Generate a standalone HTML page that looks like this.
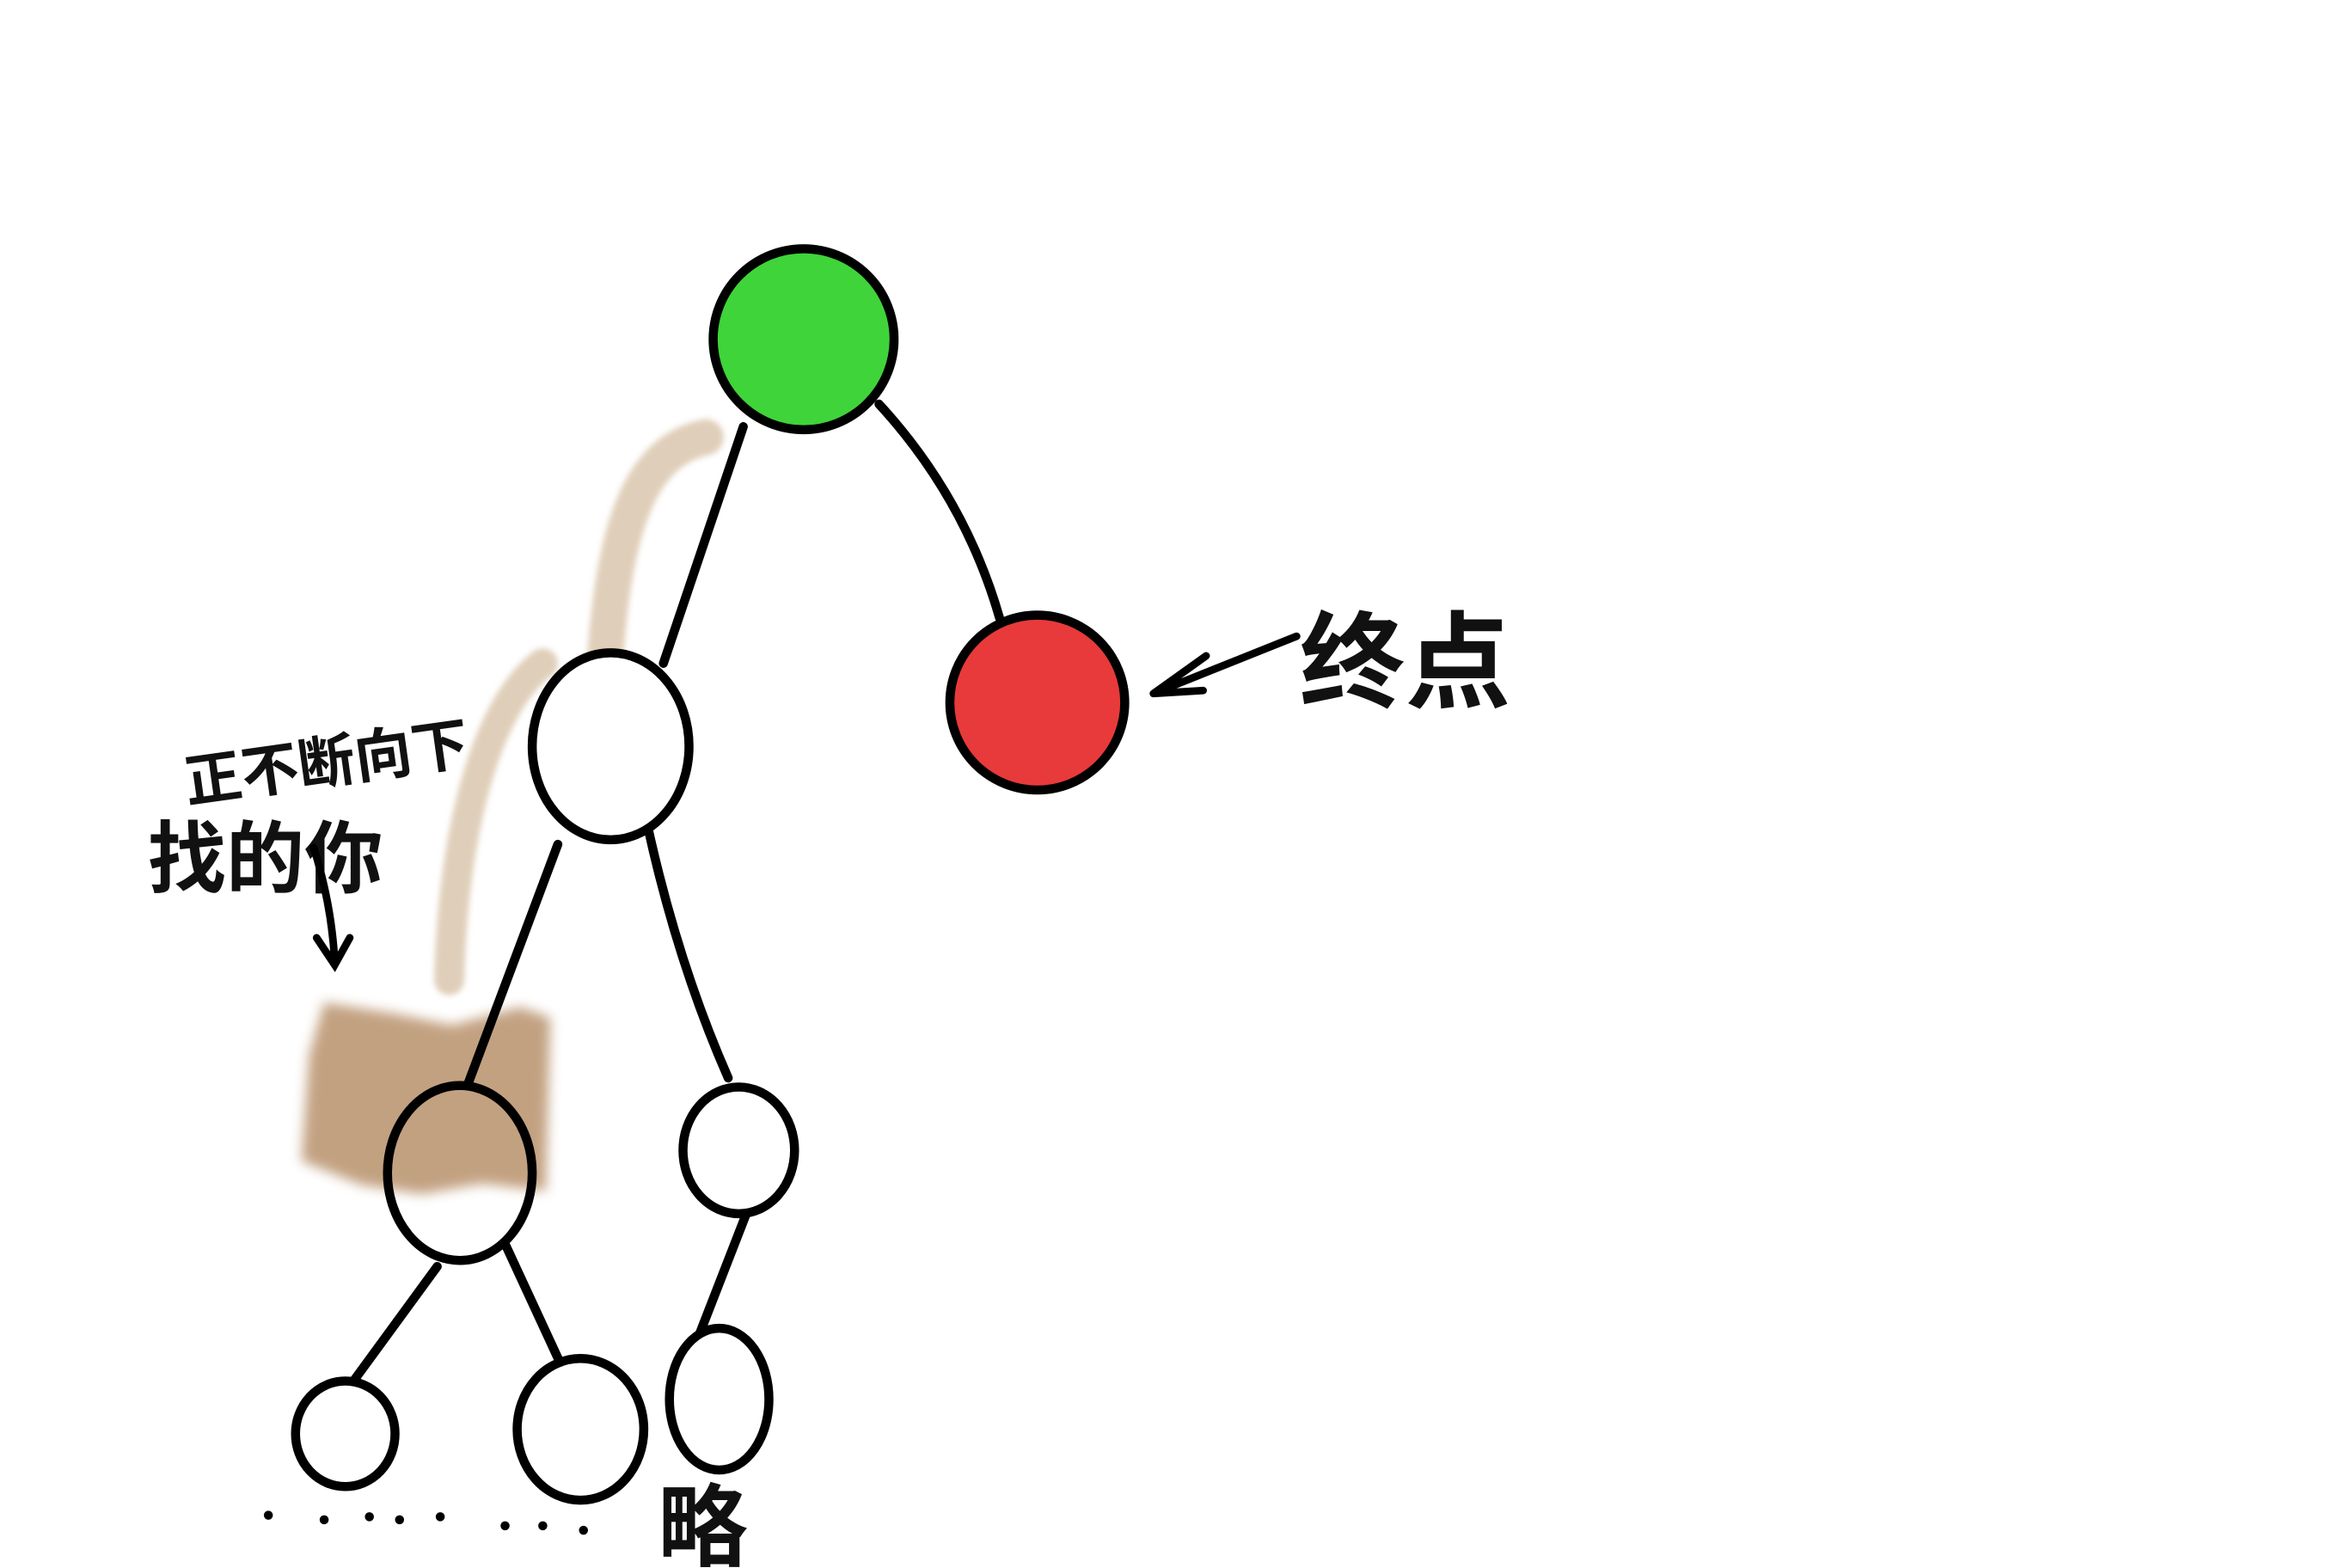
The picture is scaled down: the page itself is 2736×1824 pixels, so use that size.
<!DOCTYPE html>
<html><head><meta charset="utf-8"><style>
html,body{margin:0;padding:0;background:#fff;}
svg{display:block;}
text{font-family:"Liberation Sans","Noto Sans CJK SC",sans-serif;fill:#111;font-weight:bold;}
</style></head><body>
<svg width="2736" height="1824" viewBox="0 0 1560 1040" xmlns="http://www.w3.org/2000/svg">
<defs>
<filter id="bl" x="-20%" y="-20%" width="140%" height="140%"><feGaussianBlur stdDeviation="4"/></filter>
<filter id="bl2"><feGaussianBlur stdDeviation="2"/></filter>
</defs>
<rect width="1560" height="1040" fill="#fff"/>
<!-- brown brush strokes -->
<g fill="none" stroke="#d8c3a8" stroke-linecap="round" opacity="0.8" filter="url(#bl2)">
<path d="M468,290 C420,300 405,360 400,460" stroke-width="24"/>
<path d="M360,440 C320,470 300,560 298,650" stroke-width="20"/>
</g>
<g filter="url(#bl)" opacity="0.8">
<path d="M215,665 L260,672 L300,680 L345,668 L365,675 L362,790 L320,785 L280,792 L240,786 L200,770 L205,700 Z" fill="#b38a62"/>
</g>
<!-- edges -->
<g fill="none" stroke="#000" stroke-width="6" stroke-linecap="round">
<path d="M493,283 L440,440"/>
<path d="M583,268 Q640,330 663,410"/>
<path d="M370,560 Q340,640 310,720"/>
<path d="M430,550 Q450,640 483,715"/>
<path d="M290,840 L233,918"/>
<path d="M335,825 L372,905"/>
<path d="M495,805 L460,895"/>
</g>
<!-- nodes -->
<g stroke="#000" stroke-width="6">
<circle cx="533" cy="225" r="60" fill="#3fd43a"/>
<circle cx="688" cy="466" r="58" fill="#e83a3a"/>
<ellipse cx="405" cy="495" rx="52" ry="62" fill="#fff"/>
<ellipse cx="305" cy="778" rx="48" ry="58" fill="none"/>
<ellipse cx="490" cy="763" rx="37" ry="42" fill="#fff"/>
<ellipse cx="229" cy="951" rx="33" ry="35" fill="#fff"/>
<ellipse cx="385" cy="948" rx="42" ry="47" fill="#fff"/>
<ellipse cx="477" cy="928" rx="33" ry="47" fill="#fff"/>
</g>
<!-- annotations -->
<g transform="rotate(-8 210 495)"><text x="120" y="520" font-size="38">正不断向下</text></g>
<text x="98" y="588" font-size="52">找的你</text>
<path d="M208,562 Q220,600 222,638 M210,622 L222,640 L232,622" fill="none" stroke="#000" stroke-width="5" stroke-linecap="round"/>
<path d="M765,460 L860,422 M765,460 L800,435 M765,460 L798,458" fill="none" stroke="#000" stroke-width="5" stroke-linecap="round"/>
<text x="862" y="464" font-size="70">终点</text>
<text x="436" y="1034" font-size="60">略</text>
<g fill="#000">
<circle cx="178" cy="1005" r="3"/><circle cx="215" cy="1008" r="3"/><circle cx="245" cy="1006" r="3"/><circle cx="265" cy="1008" r="3"/><circle cx="292" cy="1006" r="3"/><circle cx="335" cy="1012" r="3"/><circle cx="360" cy="1012" r="3"/><circle cx="387" cy="1015" r="3"/>
</g>
</svg>
</body></html>
